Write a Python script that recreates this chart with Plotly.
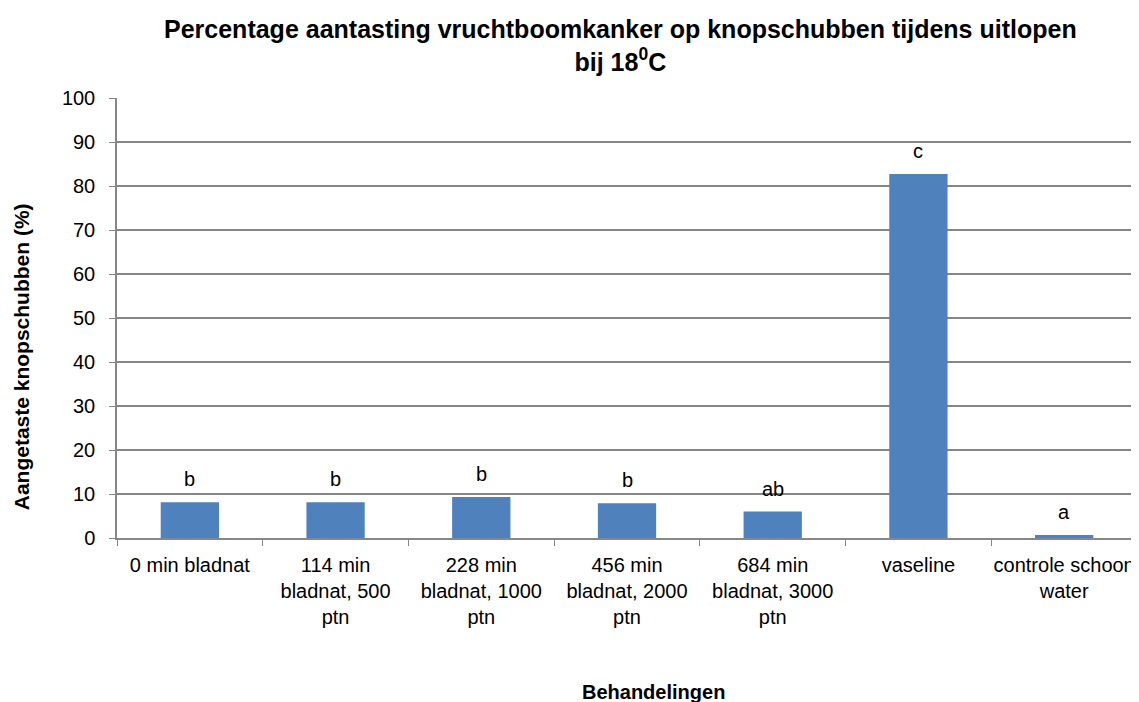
import plotly.graph_objects as go

categories = [
    "0 min bladnat",
    "114 min<br>bladnat, 500<br>ptn",
    "228 min<br>bladnat, 1000<br>ptn",
    "456 min<br>bladnat, 2000<br>ptn",
    "684 min<br>bladnat, 3000<br>ptn",
    "vaseline",
    "controle schoon<br>water",
]
values = [8.1, 8.1, 9.3, 7.9, 6.0, 82.7, 0.7]
letters = ["b", "b", "b", "b", "ab", "c", "a"]

font = "Liberation Sans, Arial"
grid = "#878787"

fig = go.Figure()
fig.add_trace(go.Bar(x=categories, y=values, marker_color="#4F81BD",
                     marker_line_width=0, width=0.4))

# significance letters above bars
for c, v, t in zip(categories, values, letters):
    fig.add_annotation(x=c, y=v, text=t, showarrow=False, yanchor="bottom",
                       yshift=10, font=dict(size=20, family=font, color="black"))

# page has an 8px body margin, so the figure is a bit smaller than the window
fig.update_layout(
    width=1131, height=694,
    margin=dict(l=109, r=2, t=90, b=164, autoexpand=False),
    plot_bgcolor="white", paper_bgcolor="white",
    showlegend=False,
    font=dict(family=font, color="black"),
)
fig.update_yaxes(range=[0, 100], dtick=10, showgrid=True, gridcolor=grid, gridwidth=1.5,
                 showline=True, linecolor=grid, linewidth=1.5, ticks="outside",
                 ticklen=6, tickcolor=grid, ticklabelstandoff=10, automargin=False,
                 tickfont=dict(size=20, family=font, color="black"), zeroline=False)
fig.update_xaxes(showline=True, linecolor=grid, linewidth=1.5, ticks="outside",
                 tickson="boundaries", ticklen=6, tickcolor=grid, ticklabelstandoff=8,
                 tickangle=0, automargin=False,
                 tickfont=dict(size=20, family=font, color="black"))

fig.add_annotation(text="<b>Percentage aantasting vruchtboomkanker op knopschubben tijdens uitlopen<br>bij 18<sup>0</sup>C</b>",
                   xref="paper", yref="paper", x=0.494, y=1.12, yanchor="middle",
                   showarrow=False, font=dict(size=25, family=font, color="black"))
fig.add_annotation(text="<b>Aangetaste knopschubben (%)</b>", xref="paper", yref="paper",
                   x=-0.094, y=0.411, xanchor="center", yanchor="middle", textangle=-90,
                   showarrow=False, font=dict(size=21, family=font, color="black"))
fig.add_annotation(text="<b>Behandelingen</b>", xref="paper", yref="paper",
                   x=0.5255, y=-0.35, showarrow=False, yanchor="middle",
                   font=dict(size=20, family=font, color="black"))

fig.write_html("out.html")
